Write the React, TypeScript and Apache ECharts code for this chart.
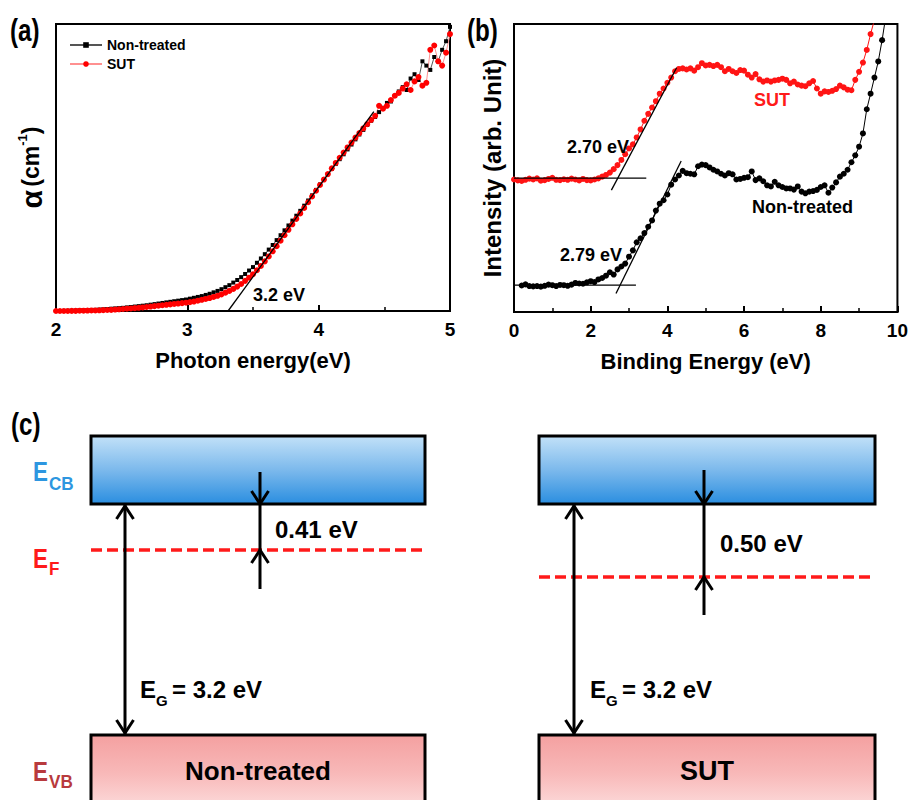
import React, { useEffect, useRef } from "react";
import * as echarts from "echarts";

// ---------- Panel (a): absorption coefficient vs photon energy ----------
const A_START = 2.0;
const A_STEP = 0.03;
const alphaNonTreated = [
  0.0, 0.0, 0.05, 0.1, 0.1, 0.15, 0.2, 0.25, 0.3, 0.35,
  0.4, 0.5, 0.6, 0.7, 0.8, 0.9, 1.0, 1.1, 1.25, 1.4,
  1.55, 1.7, 1.85, 2.0, 2.2, 2.4, 2.6, 2.8, 3.0, 3.2,
  3.4, 3.6, 3.8, 4.0, 4.3, 4.6, 4.9, 5.2, 5.6, 6.0,
  6.5, 7.0, 7.6, 8.3, 9.0, 9.9, 10.8, 11.8, 12.9, 14.1,
  15.3, 16.8, 18.3, 19.8, 21.4, 23.0, 24.7, 26.4, 28.1, 29.8,
  31.5, 33.2, 34.9, 36.7, 38.5, 40.3, 42.2, 44.1, 45.9, 47.7,
  49.5, 51.2, 52.9, 54.6, 56.3, 58.0, 59.8, 61.5, 63.1, 64.8,
  66.3, 67.6, 69.3, 70.8, 72.5, 73.0, 75.0, 76.5, 78.0, 77.0,
  81.0, 82.5, 80.5, 87.0, 85.5, 84.0, 88.5, 87.0, 91.0, 94.0,
  99.0,
];
const alphaSUT = [
  0.0, 0.0, 0.0, 0.0, 0.05, 0.05, 0.1, 0.1, 0.15, 0.2,
  0.2, 0.25, 0.3, 0.35, 0.4, 0.5, 0.6, 0.7, 0.8, 0.9,
  1.0, 1.1, 1.25, 1.4, 1.55, 1.7, 1.85, 2.0, 2.15, 2.3,
  2.45, 2.6, 2.75, 2.9, 3.1, 3.3, 3.6, 3.9, 4.2, 4.5,
  4.9, 5.3, 5.8, 6.4, 7.0, 7.7, 8.5, 9.4, 10.5, 11.6,
  12.8, 14.2, 15.7, 17.3, 19.0, 20.8, 22.6, 24.5, 26.4, 28.3,
  30.2, 32.1, 34.0, 35.9, 37.9, 39.9, 41.9, 43.9, 45.8, 47.7,
  49.7, 51.6, 53.4, 55.2, 57.0, 58.7, 60.4, 62.0, 63.6, 65.1,
  66.6, 68.0, 71.5, 70.5, 71.5, 73.5, 75.0, 76.0, 77.5, 79.0,
  77.0, 80.0, 81.5, 78.5, 79.5, 91.0, 92.5, 87.0, 85.5, 90.0,
  96.5,
];
const fitA = [[3.31, 0], [4.42, 69.5]];
const ticksA = { min: 2, max: 5, interval: 1 };

// ---------- Panel (b): UPS valence band ----------
const B_STEP = 0.1;
const B_SUT_START = 0.0;
const upsSUT = [
  46.0, 45.7, 45.5, 45.9, 46.3, 46.0, 46.4, 45.6, 45.8, 46.2,
  46.6, 45.9, 45.8, 46.1, 45.9, 46.3, 46.0, 45.7, 46.2, 45.8,
  45.7, 46.0, 46.4, 47.0, 47.6, 48.4, 49.6, 51.0, 52.8, 54.8,
  56.8, 58.2, 60.6, 63.4, 66.4, 68.8, 71.0, 73.2, 75.8, 77.6,
  79.6, 81.4, 83.6, 84.4, 84.6, 84.2, 84.6, 83.8, 85.0, 86.4,
  85.6, 85.8, 85.4, 85.8, 85.0, 83.6, 84.4, 83.6, 83.0, 84.0,
  83.8, 82.4, 81.4, 82.6, 80.8, 80.0, 80.4, 80.0, 80.4, 80.6,
  81.0, 80.6, 79.4, 80.0, 79.0, 78.6, 78.4, 79.4, 80.2, 77.6,
  75.8, 76.6, 76.4, 76.8, 77.4, 78.6, 78.0, 77.2, 77.0, 80.6,
  83.4, 86.6, 91.0, 96.5, 101.5,
];
const B_NT_START = 0.2;
const upsNonTreated = [
  9.2, 9.6, 9.0, 8.9, 9.0, 8.8, 9.1, 9.5, 9.3, 9.0,
  9.4, 9.3, 9.1, 9.5, 10.1, 9.9, 9.8, 10.3, 10.7, 10.4,
  11.3, 11.8, 12.6, 13.8, 13.0, 14.8, 15.8, 16.8, 19.2, 21.4,
  24.2, 25.6, 27.4, 29.6, 31.8, 35.2, 37.6, 38.8, 40.8, 44.2,
  46.0, 47.4, 49.0, 48.2, 48.0, 47.8, 50.6, 51.2, 51.0, 50.2,
  49.4, 48.8, 48.0, 47.4, 48.2, 47.8, 46.0, 46.2, 46.6, 46.8,
  48.8, 45.8, 46.4, 45.4, 44.0, 43.6, 45.2, 44.0, 43.4, 42.9,
  42.9, 42.5, 43.6, 41.8, 41.2, 41.8, 42.0, 42.4, 43.4, 44.0,
  41.4, 43.2, 45.0, 47.0, 48.0, 49.4, 52.0, 54.4, 57.4, 62.0,
  70.4, 75.8, 81.4, 87.0, 94.4, 103.0,
];
const fitSUTSlope = [[2.54, 42.3], [4.24, 84.8]];
const fitSUTBase = [[0, 46.5], [3.45, 46.5]];
const fitNTSlope = [[2.66, 6.4], [4.36, 52.4]];
const fitNTBase = [[0, 9.3], [3.18, 9.3]];
const ticksB = { min: 0, max: 10, interval: 2 };

const FONT = "'Liberation Sans', Arial, Helvetica, sans-serif";

function toPairs(start: number, step: number, vals: number[]) {
  return vals.map((v, i) => [Math.round((start + i * step) * 100) / 100, v]);
}

function txt(text: string, x: number, y: number, size: number, color = "#000", align = "left", sx = 1) {
  return {
    type: "text",
    x,
    y,
    scaleX: sx,
    silent: true,
    z: 100,
    style: {
      text,
      fill: color,
      fontSize: size,
      fontWeight: "bold",
      fontFamily: FONT,
      align,
      verticalAlign: "middle",
    },
  };
}

function seg(x1: number, y1: number, x2: number, y2: number, w = 3, color = "#000", dash?: number[]) {
  return {
    type: "line",
    silent: true,
    z: 50,
    shape: { x1, y1, x2, y2 },
    style: { stroke: color, lineWidth: w, lineDash: dash, lineCap: "butt" },
  };
}

function head(x: number, y: number, dir: number) {
  // dir = 1: pointing down (tip at y), dir = -1: pointing up
  return {
    type: "polyline",
    silent: true,
    z: 51,
    shape: { points: [[x - 8.5, y - dir * 13], [x, y], [x + 8.5, y - dir * 13]] },
    style: { stroke: "#000", lineWidth: 3, fill: null, lineJoin: "miter" },
  };
}

function box(x: number, y: number, w: number, h: number, c1: string, c2: string, c3: string) {
  return {
    type: "rect",
    silent: true,
    z: 10,
    shape: { x, y, width: w, height: h },
    style: {
      fill: new echarts.graphic.LinearGradient(0, 0, 0, 1, [
        { offset: 0, color: c1 },
        { offset: 0.5, color: c2 },
        { offset: 1, color: c3 },
      ]),
      stroke: "#000",
      lineWidth: 3,
    },
  };
}

export default function App() {
  const ref = useRef<HTMLDivElement>(null);
  useEffect(() => {
    if (!ref.current) return;
    const chart = echarts.init(ref.current, undefined, { renderer: "svg" });

    const axisLabel = { color: "#000", fontSize: 19, fontWeight: "bold", fontFamily: FONT, margin: 9 };
    const xCommon = {
      type: "value",
      nameLocation: "middle",
      nameGap: 38,
      nameTextStyle: { color: "#000", fontSize: 22, fontWeight: "bold", fontFamily: FONT },
      axisLine: { show: true, onZero: false, lineStyle: { color: "#000", width: 2 } },
      axisTick: { show: true, inside: true, length: 6, lineStyle: { color: "#000", width: 2 } },
      minorTick: { show: true, splitNumber: 2, length: 4, lineStyle: { color: "#000", width: 1.5 } },
      splitLine: { show: false },
      minorSplitLine: { show: false },
      axisLabel,
    };
    const yCommon = {
      type: "value",
      min: 0,
      max: 100,
      nameLocation: "middle",
      nameRotate: 90,
      axisLine: { show: true, lineStyle: { color: "#000", width: 2 } },
      axisTick: { show: false },
      axisLabel: { show: false },
      splitLine: { show: false },
    };

    const fitStyle = (data: number[][], xi: number) => ({
      type: "line",
      xAxisIndex: xi,
      yAxisIndex: xi,
      data,
      symbol: "none",
      silent: true,
      lineStyle: { color: "#000", width: 1.3 },
      z: 5,
    });

    const graphic: any[] = [
      txt("(a)", 10, 30, 31, "#000", "left", 0.78),
      txt("(b)", 467, 30, 31, "#000", "left", 0.78),
      txt("(c)", 11, 424, 31, "#000", "left", 0.78),
      txt("3.2 eV", 253, 295, 18),
      txt("2.70 eV", 567, 147, 18),
      txt("2.79 eV", 560, 255, 18),
      txt("SUT", 754, 100, 18, "#ff1a1a"),
      txt("Non-treated", 752, 207, 18),
      // panel (c)
      box(91, 436, 334, 68, "#c2e1f8", "#7cb9ec", "#2a8ee0"),
      box(539, 436, 336, 68, "#c2e1f8", "#7cb9ec", "#2a8ee0"),
      box(91, 735, 334, 78, "#f4a0a0", "#f8b9b9", "#fde0e0"),
      box(539, 735, 336, 78, "#f4a0a0", "#f8b9b9", "#fde0e0"),
      seg(91, 550, 425, 550, 3.5, "#ff1a1a", [11, 5]),
      seg(539, 577, 875, 577, 3.5, "#ff1a1a", [11, 5]),
      seg(125, 505, 125, 734),
      head(125, 506, -1),
      head(125, 733, 1),
      seg(574, 505, 574, 734),
      head(574, 506, -1),
      head(574, 733, 1),
      seg(260, 472, 260, 589),
      head(260, 504, 1),
      head(260, 550, -1),
      seg(704, 470, 704, 615),
      head(704, 504, 1),
      head(704, 577, -1),
      txt("E", 33, 471, 28, "#2d96e0", "left", 0.8),
      txt("CB", 49, 484, 19, "#2d96e0", "left", 0.9),
      txt("E", 33, 558, 28, "#ff1a1a", "left", 0.8),
      txt("F", 49, 569, 19, "#ff1a1a", "left", 0.9),
      txt("E", 33, 771, 28, "#b83a3d", "left", 0.8),
      txt("VB", 49, 782, 19, "#b83a3d", "left", 0.9),
      txt("0.41 eV", 275, 529, 24),
      txt("0.50 eV", 720, 543, 24),
      txt("E", 140, 689, 24),
      txt("G", 156, 700, 15),
      txt("= 3.2 eV", 172, 689, 24),
      txt("E", 590, 689, 24),
      txt("G", 606, 700, 15),
      txt("= 3.2 eV", 622, 689, 24),
      txt("Non-treated", 258, 771, 26, "#000", "center"),
      txt("SUT", 707, 771, 27, "#000", "center"),
    ];

    chart.setOption({
      animation: false,
      backgroundColor: "#fff",
      textStyle: { fontFamily: FONT },
      grid: [
        { left: 56, top: 24, width: 394, height: 287, show: true, borderColor: "#000", borderWidth: 2, backgroundColor: "transparent" },
        { left: 514, top: 24, width: 390, height: 288, show: true, borderColor: "#000", borderWidth: 2, backgroundColor: "transparent" },
      ],
      legend: {
        left: 64,
        top: 33,
        orient: "vertical",
        itemWidth: 32,
        itemHeight: 7,
        itemGap: 5,
        data: ["Non-treated", "SUT"],
        textStyle: { color: "#000", fontSize: 14, fontWeight: "bold", fontFamily: FONT },
        selectedMode: false,
      },
      xAxis: [
        { ...xCommon, gridIndex: 0, min: ticksA.min, max: ticksA.max, interval: ticksA.interval, name: "Photon energy(eV)" },
        { ...xCommon, gridIndex: 1, min: ticksB.min, max: ticksB.max, interval: ticksB.interval, name: "Binding Energy (eV)", axisLabel: { ...axisLabel, showMaxLabel: true } },
      ],
      yAxis: [
        {
          ...yCommon,
          gridIndex: 0,
          name: "{a|α} {b|(cm}{c|-1}{b|)}",
          nameGap: 10,
          nameTextStyle: {
            color: "#000",
            fontWeight: "bold",
            rich: {
              a: { fontSize: 30, fontWeight: "bold", color: "#000", fontFamily: FONT },
              b: { fontSize: 23, fontWeight: "bold", color: "#000", fontFamily: FONT },
              c: { fontSize: 13, fontWeight: "bold", color: "#000", fontFamily: FONT, verticalAlign: "top", padding: [0, 0, 9, 0] },
            },
          },
        },
        {
          ...yCommon,
          gridIndex: 1,
          name: "Intensity (arb. Unit)",
          nameGap: 10,
          nameTextStyle: { color: "#000", fontSize: 24, fontWeight: "bold", fontFamily: FONT },
        },
      ],
      series: [
        {
          name: "Non-treated",
          type: "line",
          xAxisIndex: 0,
          yAxisIndex: 0,
          data: toPairs(A_START, A_STEP, alphaNonTreated),
          symbol: "rect",
          symbolSize: 4,
          showAllSymbol: true,
          silent: true,
          itemStyle: { color: "#000" },
          lineStyle: { color: "#555", width: 1 },
        },
        {
          name: "SUT",
          type: "line",
          xAxisIndex: 0,
          yAxisIndex: 0,
          data: toPairs(A_START, A_STEP, alphaSUT),
          symbol: "circle",
          symbolSize: 6,
          showAllSymbol: true,
          silent: true,
          itemStyle: { color: "#ff0000" },
          lineStyle: { color: "#ff9090", width: 1 },
        },
        fitStyle(fitA, 0),
        {
          name: "SUT-b",
          type: "line",
          xAxisIndex: 1,
          yAxisIndex: 1,
          data: toPairs(B_SUT_START, B_STEP, upsSUT),
          symbol: "circle",
          symbolSize: 6,
          showAllSymbol: true,
          silent: true,
          itemStyle: { color: "#ff1414" },
          lineStyle: { color: "#ff1414", width: 1 },
        },
        {
          name: "NT-b",
          type: "line",
          xAxisIndex: 1,
          yAxisIndex: 1,
          data: toPairs(B_NT_START, B_STEP, upsNonTreated),
          symbol: "circle",
          symbolSize: 6,
          showAllSymbol: true,
          silent: true,
          itemStyle: { color: "#000" },
          lineStyle: { color: "#000", width: 1 },
        },
        fitStyle(fitSUTSlope, 1),
        fitStyle(fitSUTBase, 1),
        fitStyle(fitNTSlope, 1),
        fitStyle(fitNTBase, 1),
      ],
      graphic,
    });
    return () => chart.dispose();
  }, []);
  return <div ref={ref} style={{ position: "fixed", left: 0, top: 0, width: 911, height: 800 }} />;
}
